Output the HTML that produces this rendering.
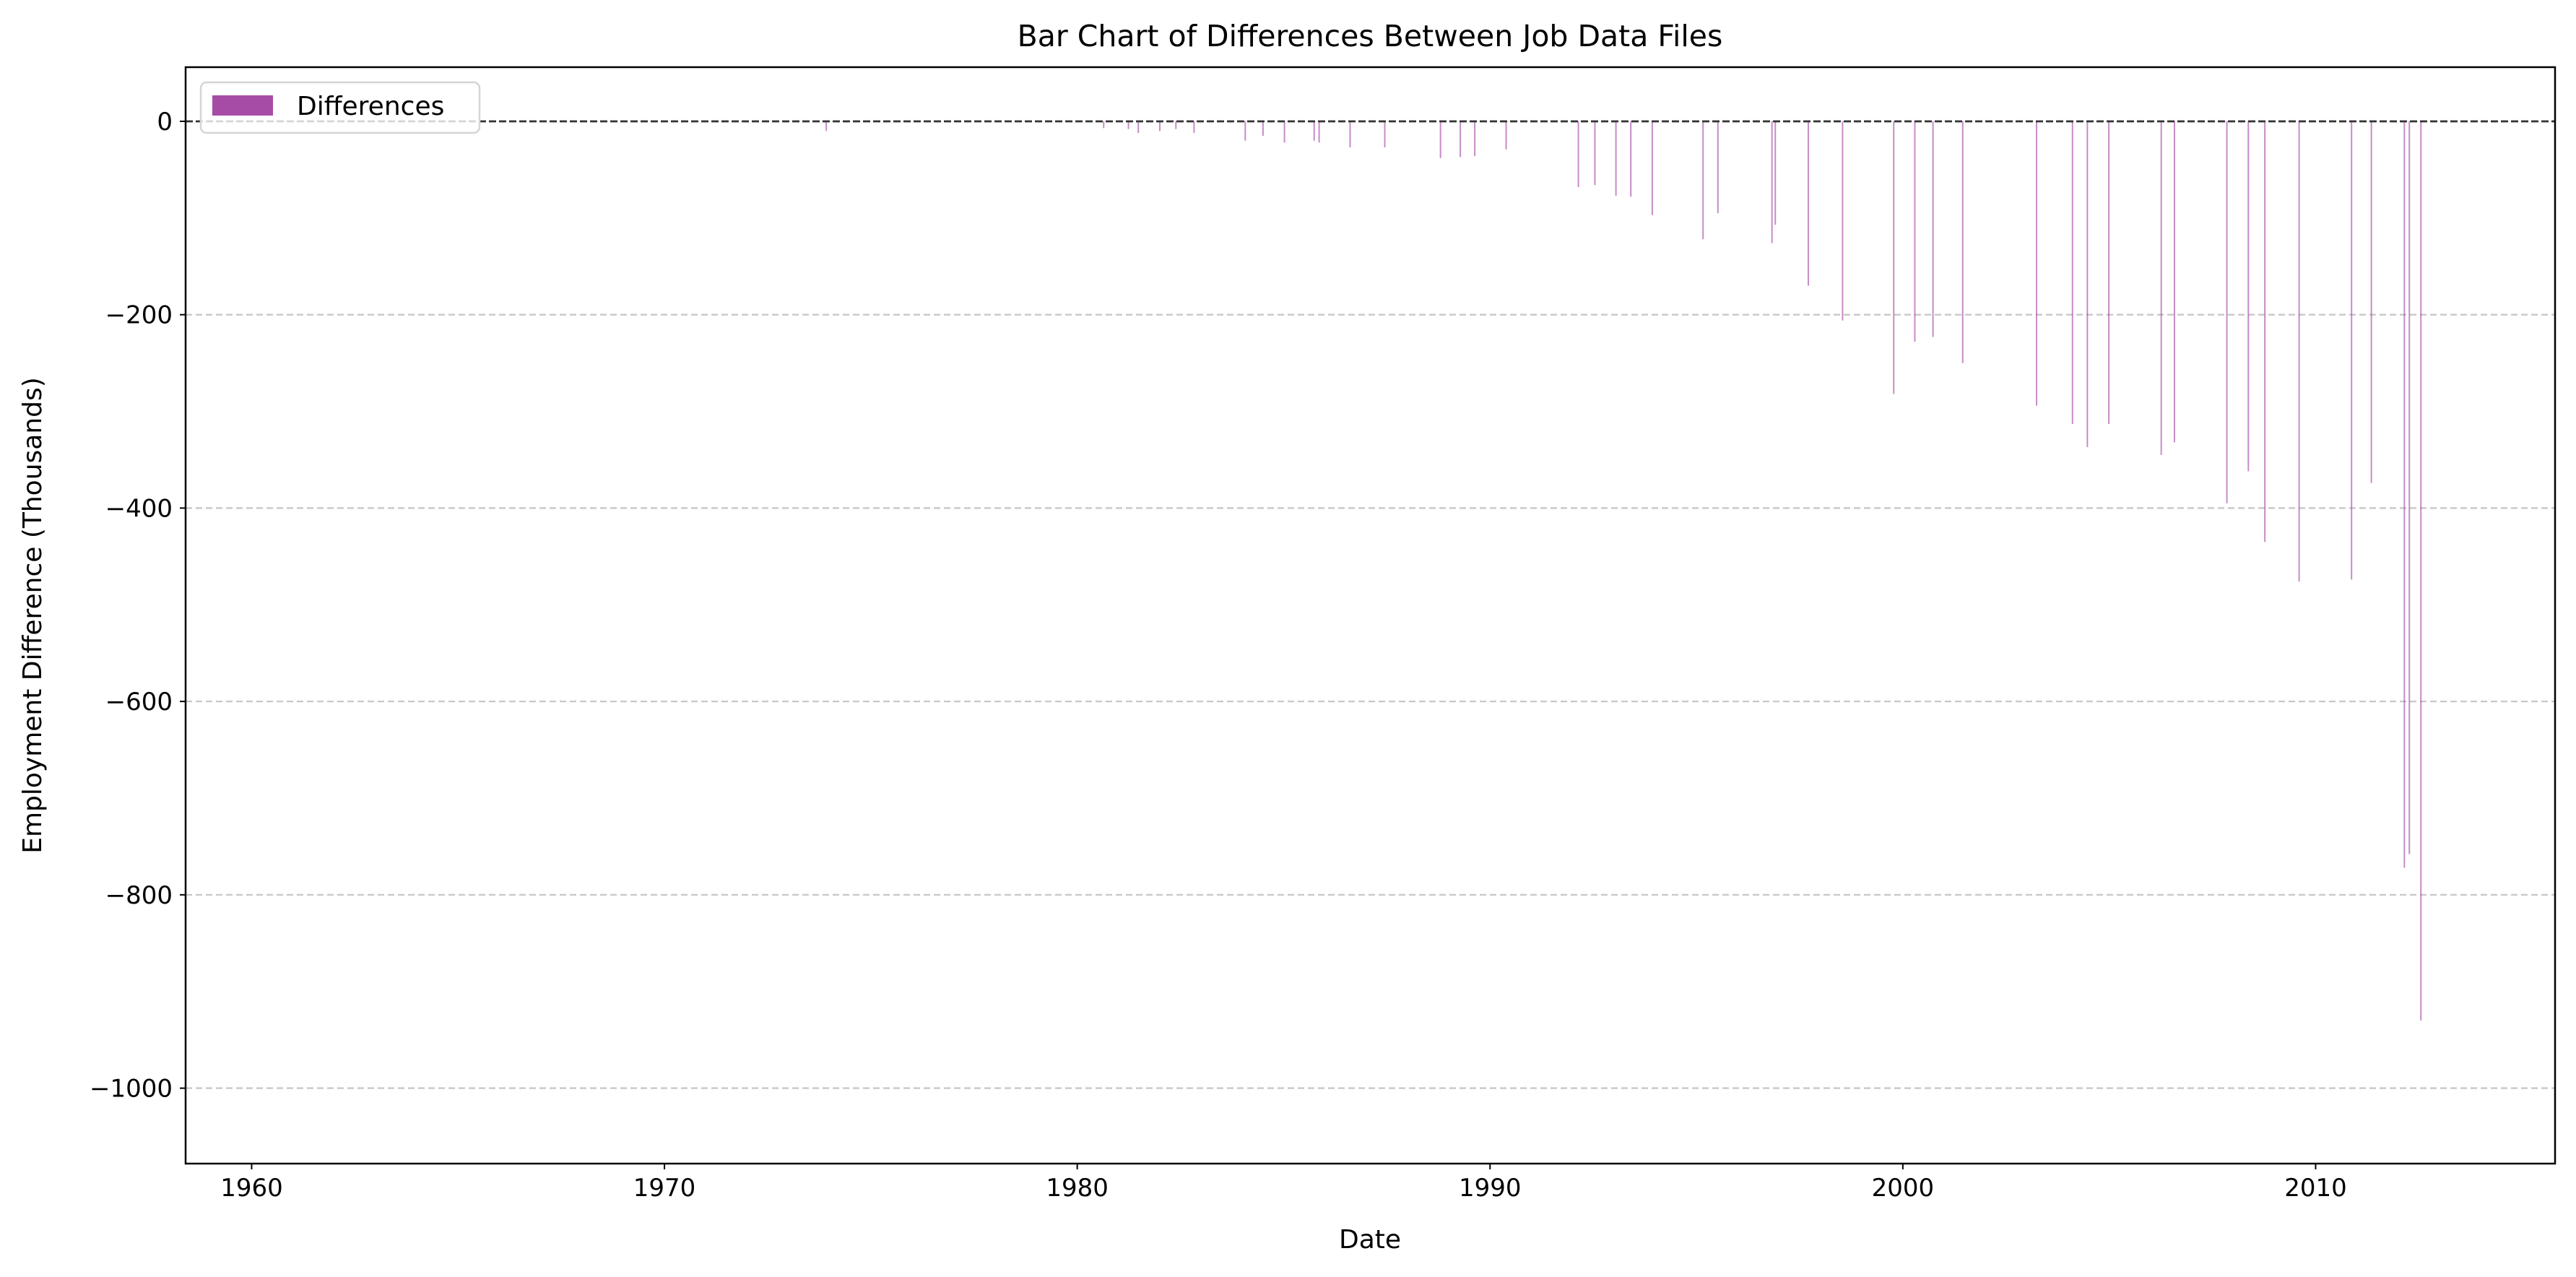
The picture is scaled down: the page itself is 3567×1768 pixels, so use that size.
<!DOCTYPE html>
<html><head><meta charset="utf-8"><style>
html,body{margin:0;padding:0;background:#fff;}
svg{display:block;font-family:"DejaVu Sans","Liberation Sans",sans-serif;}
</style></head><body>
<svg id="chart" width="3567" height="1768" viewBox="0 0 3567 1768" xmlns="http://www.w3.org/2000/svg">
<rect x="0" y="0" width="3567" height="1768" fill="#fff"/>
<g id="grid"></g>
<g id="bars"></g>
<g id="axes"></g>
<text x="1897" y="64" font-size="41" text-anchor="middle">Bar Chart of Differences Between Job Data Files</text>
<text x="1897" y="1728" font-size="36" text-anchor="middle">Date</text>
<text x="0" y="0" font-size="36" text-anchor="middle" transform="translate(57,852) rotate(-90)">Employment Difference (Thousands)</text>
<g>
<rect x="278" y="114" width="386" height="70" rx="8" fill="#fff" fill-opacity="0.8" stroke="#d5d5d5" stroke-width="2.5"/>
<rect x="294" y="132" width="84" height="28" fill="#a64ca6"/>
<text x="411" y="159" font-size="36">Differences</text>
</g>
</svg>
<script>
const dates = [1973.92,1980.64,1981.24,1981.48,1982.0,1982.39,1982.83,1984.07,1984.5,1985.02,1985.74,1985.86,1986.61,1987.45,1988.8,1989.28,1989.63,1990.39,1992.14,1992.54,1993.05,1993.41,1993.93,1995.16,1995.52,1996.83,1996.91,1997.71,1998.54,1999.78,2000.29,2000.73,2001.45,2003.24,2004.11,2004.47,2004.99,2006.26,2006.58,2007.85,2008.37,2008.77,2009.6,2010.87,2011.35,2012.15,2012.27,2012.55];
const diffs = [-10,-7,-8,-12,-10,-8,-12,-20,-15,-22,-20,-22,-27,-27,-38,-37,-36,-29,-68,-66,-77,-78,-97,-122,-95,-126,-107,-170,-206,-282,-228,-223,-250,-294,-313,-337,-313,-345,-332,-395,-362,-435,-476,-474,-374,-772,-758,-930];
const yTicks = [0,-200,-400,-600,-800,-1000];
const xTicks = [1960,1970,1980,1990,2000,2010];

const L=257,R=3538,T=93,B=1611;
const xMin=1958.4,xMax=2015.8,yMax=56,yMin=-1078;
const xs=v=>L+(v-xMin)/(xMax-xMin)*(R-L);
const ys=v=>T+(yMax-v)/(yMax-yMin)*(B-T);
const NS='http://www.w3.org/2000/svg';
function mk(tag,attrs,parent){const e=document.createElementNS(NS,tag);for(const k in attrs)e.setAttribute(k,attrs[k]);parent.appendChild(e);return e;}
const grid=document.getElementById('grid'),barsG=document.getElementById('bars'),axes=document.getElementById('axes');

yTicks.forEach(t=>{
  const y=ys(t);
  const g=mk('line',{x1:L,x2:R,y1:y,y2:y,stroke:'#c8c8c8','stroke-width':2.3,'stroke-dasharray':'9 5'},grid);
  
  
  const tk=mk('line',{x1:L-8,x2:L,y1:y,y2:y,stroke:'#000','stroke-width':2},axes);
  
  
  const lb=mk('text',{x:L-18,y:y+12,'font-size':34,'text-anchor':'end'},axes);
  lb.textContent=t<0?'\u2212'+Math.abs(t):String(t);
  
  
});
xTicks.forEach(t=>{
  const x=xs(t);
  const tk=mk('line',{x1:x,x2:x,y1:B,y2:B+8,stroke:'#000','stroke-width':2},axes);
  
  
  const lb=mk('text',{x:x,y:B+45,'font-size':34,'text-anchor':'middle'},axes);
  lb.textContent=String(t);
  
  
});
dates.forEach((d,i)=>{
  const y0=ys(0),y1=ys(diffs[i]);
  const b=mk('rect',{x:xs(d)-1,y:Math.min(y0,y1),width:2,height:Math.abs(y1-y0),fill:'#a040a0','fill-opacity':0.6},barsG);
  
  
});
const z=mk('line',{x1:L,x2:R,y1:ys(0),y2:ys(0),stroke:'#333','stroke-width':2.8,'stroke-dasharray':'10 4'},axes);


const fr=mk('rect',{x:L,y:T,width:R-L,height:B-T,fill:'none',stroke:'#000','stroke-width':2.5},axes);


</script>
</body></html>
